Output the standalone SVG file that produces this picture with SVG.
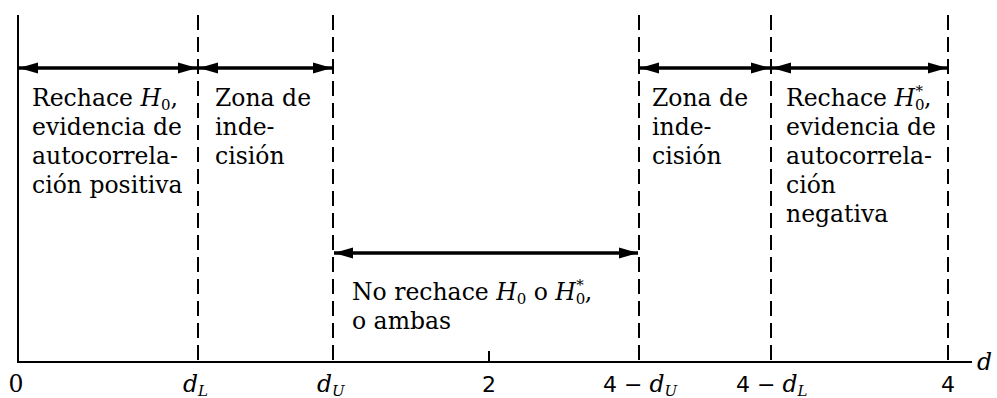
<svg xmlns="http://www.w3.org/2000/svg" width="997" height="398" viewBox="0 0 997 398">
<style>
.t{font-family:"DejaVu Serif","Liberation Serif",serif;font-size:23.5px;fill:#000}
.it{font-style:italic}
.sub{font-size:15px}
.s{font-family:"DejaVu Sans","Liberation Sans",sans-serif;font-size:22px;fill:#000}
.dash{stroke:#000;stroke-width:2;stroke-dasharray:15 7;fill:none}
.solid{stroke:#000;stroke-width:2;fill:none}
.arr{stroke:#000;stroke-width:3.5;fill:none;marker-start:url(#ah);marker-end:url(#ah)}
</style>
<defs>
<marker id="ah" markerUnits="userSpaceOnUse" markerWidth="20" markerHeight="12" refX="19" refY="6" orient="auto-start-reverse">
<path d="M0,0.5 L19,6 L0,11.5 z" fill="#000"/>
</marker>
</defs>
<g id="axes">
<line class="solid" x1="18" y1="15" x2="18" y2="362"/>
<line class="solid" x1="17" y1="362" x2="972" y2="362"/>
<line class="solid" x1="489" y1="351" x2="489" y2="362"/>
</g>
<g id="dividers">
<line class="dash" x1="198" y1="15" x2="198" y2="362"/>
<line class="dash" x1="333" y1="15" x2="333" y2="362"/>
<line class="dash" x1="639" y1="15" x2="639" y2="362"/>
<line class="dash" x1="771" y1="15" x2="771" y2="362"/>
<line class="dash" x1="948" y1="15" x2="948" y2="362"/>
</g>
<g id="connectors">
<line class="arr" x1="19" y1="68" x2="197" y2="68"/>
<line class="arr" x1="199" y1="68" x2="332" y2="68"/>
<line class="arr" x1="640" y1="68" x2="770" y2="68"/>
<line class="arr" x1="772" y1="68" x2="947" y2="68"/>
<line class="arr" x1="334" y1="253" x2="638" y2="253"/>
</g>
<g id="zone-reject-h0">
<text class="t" x="32" y="106">Rechace <tspan class="it">H</tspan><tspan class="sub" dy="4">0</tspan><tspan dy="-4">,</tspan></text>
<text class="t" x="32" y="135">evidencia de</text>
<text class="t" x="32" y="164">autocorrela-</text>
<text class="t" x="32" y="193">ción positiva</text>
</g>
<g id="zone-indecision-left">
<text class="t" x="215" y="106">Zona de</text>
<text class="t" x="215" y="135">inde-</text>
<text class="t" x="215" y="164">cisión</text>
</g>
<g id="zone-no-reject">
<text class="t" x="352" y="300">No rechace <tspan class="it">H</tspan><tspan class="sub" dy="4">0</tspan><tspan dy="-4"> o </tspan><tspan class="it">H</tspan><tspan class="sub" dy="4">0</tspan><tspan class="sub" dx="-9" dy="-14">*</tspan><tspan dx="1" dy="10">,</tspan></text>
<text class="t" x="352" y="329">o ambas</text>
</g>
<g id="zone-indecision-right">
<text class="t" x="652" y="106">Zona de</text>
<text class="t" x="652" y="135">inde-</text>
<text class="t" x="652" y="164">cisión</text>
</g>
<g id="zone-reject-h0star">
<text class="t" x="786" y="106">Rechace <tspan class="it">H</tspan><tspan class="sub" dy="4">0</tspan><tspan class="sub" dx="-9" dy="-14">*</tspan><tspan dx="1" dy="10">,</tspan></text>
<text class="t" x="786" y="135">evidencia de</text>
<text class="t" x="786" y="164">autocorrela-</text>
<text class="t" x="786" y="193">ción</text>
<text class="t" x="786" y="222">negativa</text>
</g>
<g id="axis-labels">
<text class="t" x="16" y="392" text-anchor="middle">0</text>
<text class="t it" x="183" y="392">d<tspan class="sub" dy="4">L</tspan></text>
<text class="t it" x="317" y="392">d<tspan class="sub" dy="4">U</tspan></text>
<text class="s" x="489" y="392" text-anchor="middle">2</text>
<text class="s" x="603" y="392">4 − <tspan class="t it">d</tspan><tspan class="t it sub" dy="4">U</tspan></text>
<text class="s" x="736" y="392">4 − <tspan class="t it">d</tspan><tspan class="t it sub" dy="4">L</tspan></text>
<text class="s" x="948" y="392" text-anchor="middle">4</text>
<text class="t it" x="977" y="370">d</text>
</g>
</svg>
